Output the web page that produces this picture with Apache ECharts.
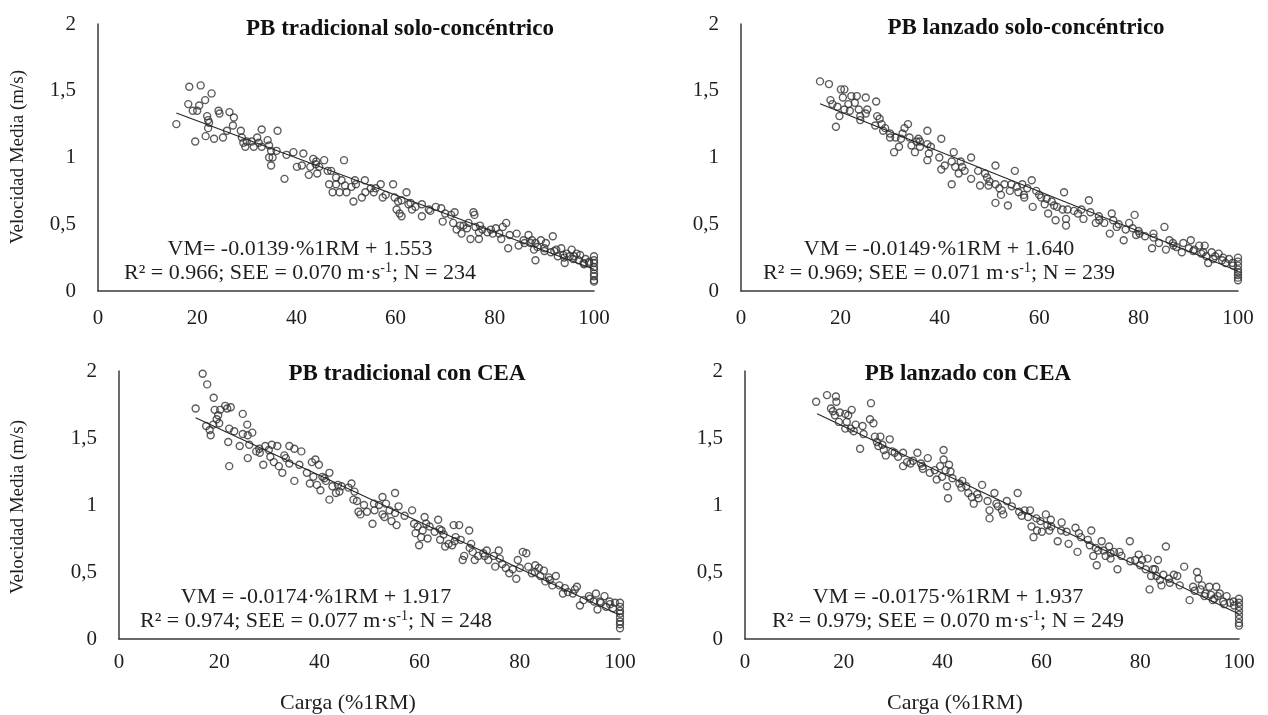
<!DOCTYPE html>
<html>
<head>
<meta charset="utf-8">
<script src="https://cdn.jsdelivr.net/npm/echarts@6/dist/echarts.min.js"></script>
<style>
html,body{margin:0;padding:0;background:#fff;}
#chart{width:1268px;height:715px;}
</style>
</head>
<body>
<div id="chart"></div>
<script>
// ---- tick labels ----
const xTickLabels = ['0', '20', '40', '60', '80', '100'];
const yTickLabels = ['0', '0,5', '1', '1,5', '2'];

// ---- panel titles ----
const panelTitles = ['PB tradicional solo-concéntrico', 'PB lanzado solo-concéntrico', 'PB tradicional con CEA', 'PB lanzado con CEA'];
const eqLine1 = ['VM= -0.0139·%1RM + 1.553', 'VM = -0.0149·%1RM + 1.640', 'VM = -0.0174·%1RM + 1.917', 'VM = -0.0175·%1RM + 1.937'];
const eqR2 = ['0.966', '0.969', '0.974', '0.979'];
const eqSEE = ['0.070', '0.071', '0.077', '0.070'];
const eqN = ['234', '239', '248', '249'];

// ---- fit lines (endpoints, %1RM / m/s) ----
const fitTradConc = [[15.8, 1.333], [100, 0.163]];
const fitLanzConc = [[15.9, 1.403], [100, 0.150]];
const fitTradCEA = [[15.3, 1.651], [100, 0.177]];
const fitLanzCEA = [[14.6, 1.681], [100, 0.187]];

// ---- data (%1RM, VM m/s) ----
const tradConc = [[15.8,1.25],[18.4,1.53],[20.7,1.54],[22.9,1.48],[21.6,1.43],[20.4,1.39],[18.2,1.40],[19.1,1.35],[20.0,1.35],[22.0,1.31],[22.2,1.28],[22.4,1.26],[22.2,1.22],[19.6,1.12],[21.7,1.16],[23.4,1.14],[25.2,1.15],[24.3,1.35],[24.5,1.33],[26.5,1.34],[27.4,1.30],[27.2,1.24],[28.8,1.20],[29.0,1.15],[29.3,1.11],[29.7,1.08],[31.0,1.12],[31.4,1.08],[32.1,1.15],[32.4,1.11],[33.0,1.21],[34.2,1.13],[34.5,1.09],[34.9,1.05],[35.2,1.00],[34.5,1.00],[34.9,0.94],[36.2,1.20],[37.6,0.84],[39.4,1.04],[40.1,0.93],[41.4,1.03],[41.1,0.94],[42.5,0.87],[42.8,0.93],[43.4,0.99],[43.9,0.95],[44.6,0.93],[45.6,0.98],[44.2,0.88],[46.3,0.90],[46.6,0.80],[47.3,0.74],[48.0,0.85],[48.0,0.80],[48.7,0.74],[49.1,0.83],[49.8,0.79],[50.1,0.74],[49.6,0.98],[51.1,0.78],[51.5,0.67],[51.8,0.83],[53.2,0.70],[53.9,0.74],[53.8,0.83],[55.0,0.77],[55.6,0.74],[57.0,0.80],[57.4,0.70],[59.5,0.80],[59.8,0.70],[60.5,0.67],[61.2,0.68],[60.2,0.61],[60.8,0.58],[61.2,0.56],[62.2,0.74],[62.6,0.65],[63.3,0.61],[64.0,0.63],[65.3,0.65],[65.3,0.56],[66.7,0.61],[68.1,0.63],[69.2,0.62],[69.5,0.52],[71.2,0.57],[71.9,0.59],[71.6,0.51],[72.3,0.46],[73.0,0.49],[73.3,0.43],[73.7,0.49],[74.4,0.47],[74.7,0.51],[75.1,0.39],[75.7,0.59],[75.9,0.57],[76.1,0.48],[76.8,0.44],[76.8,0.39],[77.5,0.46],[78.5,0.44],[79.2,0.46],[79.6,0.43],[80.2,0.47],[80.9,0.43],[81.3,0.39],[81.6,0.48],[82.3,0.51],[82.7,0.32],[84.4,0.43],[84.8,0.34],[85.8,0.38],[86.8,0.42],[87.2,0.36],[87.5,0.38],[88.2,0.36],[87.9,0.31],[88.6,0.33],[88.2,0.23],[89.3,0.38],[90.0,0.32],[90.3,0.36],[91.7,0.41],[91.3,0.29],[92.4,0.31],[92.7,0.26],[93.4,0.32],[93.8,0.27],[94.1,0.21],[94.5,0.28],[95.1,0.26],[95.5,0.31],[95.8,0.24],[96.5,0.28],[96.9,0.23],[97.2,0.27],[97.9,0.21],[98.3,0.24],[99.0,0.21],[100,0.26],[100,0.23],[100,0.21],[100,0.18],[100,0.16],[100,0.13],[100,0.11],[100,0.08],[100,0.07],[38.0,1.02],[44.0,0.97],[47.0,0.90],[52.0,0.80],[56.0,0.77],[58.0,0.72],[63.0,0.66],[67.0,0.60],[70.0,0.58],[77.0,0.49],[83.0,0.42],[86.0,0.36],[90.0,0.30],[92.0,0.30],[94.0,0.25],[96.0,0.26],[98.0,0.20],[99.0,0.22],[30.0,1.12],[33.0,1.08],[26.0,1.20],[36.0,1.05]];

const lanzConc = [[15.9,1.57],[17.7,1.55],[18.0,1.43],[18.4,1.40],[19.1,1.23],[19.8,1.31],[20.1,1.51],[20.8,1.51],[20.5,1.45],[19.4,1.38],[20.8,1.36],[21.6,1.40],[21.9,1.35],[22.2,1.46],[22.9,1.41],[23.3,1.46],[23.7,1.36],[24.0,1.31],[25.1,1.45],[25.1,1.33],[25.4,1.36],[27.2,1.42],[27.4,1.31],[27.9,1.29],[28.3,1.25],[28.6,1.20],[29.0,1.22],[30.0,1.15],[30.8,1.04],[31.1,1.15],[31.8,1.08],[32.2,1.14],[32.5,1.18],[32.9,1.22],[33.6,1.25],[33.9,1.15],[34.3,1.09],[35.0,1.04],[35.3,1.12],[35.7,1.14],[36.0,1.08],[37.5,1.20],[37.5,1.10],[37.8,1.03],[37.5,0.98],[38.2,1.08],[39.9,1.00],[40.3,1.14],[40.3,0.91],[41.0,0.94],[42.4,0.80],[42.4,0.97],[42.8,1.04],[43.1,0.93],[43.8,0.88],[44.2,0.97],[44.5,0.93],[46.3,1.00],[46.3,0.84],[47.7,0.90],[48.1,0.79],[49.1,0.88],[49.5,0.85],[49.8,0.79],[51.2,0.94],[51.2,0.80],[51.2,0.66],[52.3,0.72],[53.0,0.80],[53.7,0.64],[54.1,0.75],[54.4,0.80],[55.1,0.90],[55.5,0.78],[55.8,0.74],[56.6,0.80],[56.9,0.72],[57.6,0.77],[58.5,0.83],[58.7,0.63],[59.4,0.75],[60.4,0.70],[61.1,0.65],[61.5,0.69],[61.8,0.58],[62.5,0.67],[63.3,0.53],[63.6,0.63],[64.7,0.61],[65.0,0.74],[65.4,0.54],[65.4,0.49],[65.7,0.61],[67.8,0.58],[68.5,0.61],[68.9,0.54],[70.0,0.68],[70.3,0.59],[71.4,0.51],[72.1,0.53],[73.1,0.51],[74.2,0.43],[74.6,0.58],[74.9,0.53],[75.6,0.48],[77.0,0.38],[77.4,0.46],[78.1,0.51],[79.2,0.57],[78.8,0.47],[79.5,0.42],[80.2,0.43],[81.3,0.41],[82.7,0.32],[83.0,0.43],[84.1,0.36],[85.2,0.48],[85.5,0.31],[86.2,0.38],[86.9,0.36],[87.6,0.33],[88.7,0.29],[89.0,0.36],[90.1,0.32],[90.5,0.38],[91.2,0.31],[92.2,0.34],[92.6,0.28],[93.3,0.34],[93.6,0.26],[94.0,0.21],[94.7,0.29],[95.4,0.26],[96.1,0.28],[96.8,0.23],[97.5,0.21],[98.2,0.24],[98.9,0.21],[100,0.25],[100,0.22],[100,0.19],[100,0.16],[100,0.14],[100,0.12],[100,0.10],[100,0.08],[24.0,1.28],[27.0,1.24],[30.0,1.18],[36.0,1.12],[45.0,0.90],[50.0,0.82],[52.0,0.77],[57.0,0.70],[60.0,0.72],[63.0,0.64],[67.0,0.60],[72.0,0.56],[76.0,0.50],[80.0,0.45],[83.0,0.40],[87.0,0.34],[91.0,0.30],[93.0,0.29],[95.0,0.24],[97.0,0.25],[99.0,0.19]];

const tradCEA = [[15.3,1.72],[16.7,1.98],[17.6,1.90],[18.9,1.80],[17.4,1.59],[18.1,1.56],[18.3,1.52],[18.8,1.60],[19.1,1.71],[19.5,1.64],[19.8,1.67],[20.2,1.71],[21.2,1.74],[22.3,1.73],[21.6,1.72],[22.0,1.57],[21.8,1.47],[22.0,1.29],[24.1,1.44],[24.7,1.68],[24.7,1.53],[25.6,1.60],[25.7,1.52],[26.6,1.54],[25.7,1.35],[27.4,1.40],[28.1,1.39],[28.8,1.30],[29.2,1.44],[29.9,1.41],[30.2,1.36],[30.5,1.45],[30.9,1.32],[31.6,1.44],[31.9,1.29],[32.6,1.24],[33.3,1.35],[34.0,1.44],[34.0,1.31],[35.0,1.42],[35.0,1.18],[36.4,1.40],[37.5,1.24],[38.1,1.16],[38.5,1.32],[38.8,1.21],[39.2,1.34],[39.5,1.15],[39.9,1.30],[40.2,1.11],[40.6,1.21],[41.3,1.18],[42.0,1.24],[42.0,1.04],[42.6,1.14],[43.3,1.09],[43.7,1.15],[44.4,1.14],[45.8,1.13],[46.4,1.16],[46.8,1.04],[47.5,1.03],[47.8,0.95],[48.2,0.93],[48.9,1.00],[49.5,0.95],[50.6,0.86],[50.9,1.01],[51.9,1.00],[52.6,1.06],[52.6,0.93],[53.3,1.01],[54.0,0.96],[54.4,0.88],[55.1,0.94],[55.1,1.09],[55.4,0.85],[55.8,0.99],[58.5,0.96],[58.9,0.86],[59.2,0.79],[59.6,0.84],[59.9,0.70],[60.3,0.76],[60.6,0.81],[61.0,0.91],[61.3,0.86],[61.6,0.75],[63.0,0.80],[63.7,0.89],[64.1,0.74],[64.4,0.81],[64.8,0.78],[65.1,0.69],[65.8,0.71],[66.5,0.70],[66.8,0.85],[67.2,0.76],[67.9,0.85],[68.2,0.74],[68.6,0.59],[68.9,0.62],[69.9,0.81],[70.3,0.71],[70.6,0.65],[71.0,0.59],[71.7,0.62],[72.7,0.64],[73.4,0.66],[73.7,0.59],[74.8,0.62],[75.1,0.54],[75.8,0.66],[76.5,0.56],[77.2,0.53],[77.9,0.49],[78.6,0.52],[79.3,0.45],[79.6,0.59],[80.6,0.65],[81.3,0.64],[81.7,0.54],[82.4,0.49],[83.1,0.55],[83.8,0.53],[84.1,0.47],[84.8,0.51],[85.1,0.43],[85.8,0.46],[86.5,0.40],[87.2,0.47],[87.9,0.40],[88.6,0.34],[89.6,0.35],[90.6,0.34],[91.4,0.39],[92.0,0.25],[92.7,0.29],[93.8,0.32],[94.8,0.28],[95.2,0.34],[95.5,0.22],[96.2,0.27],[96.9,0.32],[97.2,0.24],[97.9,0.28],[98.6,0.23],[99.0,0.27],[100,0.27],[100,0.24],[100,0.21],[100,0.19],[100,0.16],[100,0.13],[100,0.11],[100,0.08],[20.0,1.61],[23.0,1.55],[26.0,1.45],[28.0,1.42],[33.0,1.37],[36.0,1.30],[41.0,1.20],[44.0,1.10],[47.0,1.10],[51.0,0.96],[53.0,0.91],[57.0,0.92],[62.0,0.84],[64.0,0.82],[67.0,0.73],[70.0,0.68],[73.0,0.62],[76.0,0.60],[80.0,0.53],[83.0,0.50],[86.0,0.44],[89.0,0.38],[91.0,0.37],[94.0,0.30],[96.0,0.28],[98.0,0.26]];

const lanzCEA = [[14.4,1.77],[16.6,1.82],[18.4,1.81],[18.5,1.77],[17.4,1.72],[17.8,1.70],[18.2,1.67],[19.2,1.69],[20.3,1.68],[20.9,1.67],[21.6,1.71],[20.6,1.62],[20.3,1.57],[21.4,1.57],[22.4,1.60],[23.3,1.42],[23.8,1.59],[25.5,1.76],[25.3,1.64],[26.0,1.61],[26.3,1.51],[26.7,1.47],[27.4,1.51],[27.8,1.45],[28.1,1.41],[28.5,1.37],[29.3,1.49],[29.8,1.40],[30.3,1.39],[32.0,1.39],[32.0,1.29],[32.8,1.32],[33.5,1.31],[34.9,1.39],[35.6,1.31],[35.9,1.29],[37.0,1.35],[37.4,1.24],[38.4,1.26],[38.8,1.19],[39.5,1.29],[39.9,1.21],[40.2,1.41],[40.2,1.34],[40.6,1.26],[40.9,1.14],[41.1,1.05],[41.3,1.30],[41.6,1.25],[43.4,1.16],[43.8,1.13],[44.8,1.14],[45.2,1.09],[45.9,1.06],[46.3,1.01],[47.3,1.05],[48.0,1.15],[49.1,1.03],[49.5,0.96],[49.5,0.90],[50.5,1.09],[50.9,1.01],[51.2,0.99],[52.3,0.93],[53.0,1.03],[55.2,1.09],[55.5,0.95],[56.6,0.96],[57.3,0.91],[57.7,0.96],[58.0,0.84],[58.4,0.76],[59.1,0.81],[59.8,0.88],[60.1,0.80],[60.9,0.93],[61.2,0.85],[61.6,0.81],[61.9,0.89],[63.3,0.73],[64.1,0.87],[65.1,0.80],[65.5,0.71],[66.9,0.83],[67.3,0.65],[67.6,0.79],[69.4,0.74],[69.8,0.70],[70.1,0.81],[70.5,0.62],[71.2,0.55],[71.5,0.66],[72.2,0.73],[72.6,0.66],[73.0,0.62],[73.7,0.69],[74.0,0.64],[74.7,0.65],[75.4,0.52],[75.8,0.65],[76.2,0.62],[77.9,0.73],[79.0,0.59],[79.7,0.63],[80.4,0.59],[81.1,0.52],[81.5,0.60],[81.9,0.37],[82.2,0.47],[82.6,0.52],[83.3,0.47],[83.6,0.59],[84.0,0.44],[84.3,0.40],[84.7,0.48],[85.2,0.69],[85.8,0.45],[86.8,0.48],[87.5,0.47],[88.9,0.54],[90.0,0.29],[90.7,0.39],[91.5,0.50],[91.8,0.45],[92.2,0.37],[92.5,0.40],[93.2,0.34],[94.0,0.39],[94.3,0.33],[94.7,0.29],[95.4,0.39],[95.7,0.32],[96.1,0.34],[96.8,0.28],[97.5,0.32],[98.2,0.27],[98.9,0.28],[100,0.30],[100,0.27],[100,0.24],[100,0.21],[100,0.18],[100,0.15],[100,0.12],[100,0.10],[19.0,1.62],[22.0,1.55],[24.0,1.53],[27.0,1.44],[31.0,1.36],[34.0,1.33],[36.0,1.27],[42.0,1.20],[44.0,1.18],[47.0,1.08],[52.0,0.96],[54.0,0.99],[56.0,0.92],[59.0,0.90],[62.0,0.84],[64.0,0.81],[68.0,0.76],[71.0,0.68],[74.0,0.60],[78.0,0.58],[80.0,0.55],[83.0,0.52],[86.0,0.42],[88.0,0.40],[91.0,0.36],[93.0,0.32],[95.0,0.30],[97.0,0.26],[99.0,0.25]];

const panelData = [tradConc, lanzConc, tradCEA, lanzCEA];
const panelFits = [fitTradConc, fitLanzConc, fitTradCEA, fitLanzCEA];

// ---- layout ----
const grids = [
  {left: 98, top: 24, width: 496, height: 267},
  {left: 741, top: 24, width: 497, height: 267},
  {left: 119, top: 371, width: 501, height: 268},
  {left: 745, top: 371, width: 494, height: 268}
];
const xLabelMargin = [17, 17, 13, 13];
const titlePos = [[400, 29], [1026, 28], [407, 374], [968, 374]];
const eqPos = [[300, 249, 273], [939, 249, 273], [316, 597, 621], [948, 597, 621]];

const FONT = '"Liberation Serif", "Times New Roman", serif';
const TXT = '#1e1e1e';
const AX = '#3a3a3a';

const xAxes = [], yAxes = [], series = [], graphics = [];
grids.forEach((g, i) => {
  xAxes.push({
    gridIndex: i, type: 'value', min: 0, max: 100, interval: 20,
    axisLine: {show: true, lineStyle: {color: AX, width: 1.5}},
    axisTick: {show: false}, splitLine: {show: false},
    axisLabel: {color: TXT, fontFamily: FONT, fontSize: 21, margin: xLabelMargin[i],
      formatter: (v, idx) => xTickLabels[idx]}
  });
  yAxes.push({
    gridIndex: i, type: 'value', min: 0, max: 2, interval: 0.5,
    axisLine: {show: true, lineStyle: {color: AX, width: 1.5}},
    axisTick: {show: false}, splitLine: {show: false},
    axisLabel: {color: TXT, fontFamily: FONT, fontSize: 21, margin: 22,
      formatter: (v, idx) => yTickLabels[idx]}
  });
  series.push({
    type: 'scatter', xAxisIndex: i, yAxisIndex: i, data: panelData[i],
    symbol: 'circle', symbolSize: 7,
    itemStyle: {color: 'rgba(0,0,0,0)', borderColor: '#333333', borderWidth: 1.4},
    silent: true, z: 2
  });
  series.push({
    type: 'line', xAxisIndex: i, yAxisIndex: i, data: panelFits[i],
    symbol: 'none', lineStyle: {color: '#262626', width: 1.2}, silent: true, z: 3
  });
  graphics.push({
    type: 'text', x: titlePos[i][0], y: titlePos[i][1],
    style: {text: panelTitles[i], fill: '#111', font: 'bold 23px ' + FONT,
      textAlign: 'center', textVerticalAlign: 'middle'}
  });
  graphics.push({
    type: 'text', x: eqPos[i][0], y: eqPos[i][1],
    style: {text: eqLine1[i], fill: TXT, font: '22px ' + FONT,
      textAlign: 'center', textVerticalAlign: 'middle'}, z: 10
  });
  graphics.push({
    type: 'text', x: eqPos[i][0], y: eqPos[i][2],
    style: {
      text: '{n|R² = ' + eqR2[i] + '; SEE = ' + eqSEE[i] + ' m·s}{s|-1}{n|; N = ' + eqN[i] + '}',
      rich: {
        n: {fill: TXT, font: '22px ' + FONT, lineHeight: 24},
        s: {fill: TXT, font: '14px ' + FONT, verticalAlign: 'top', lineHeight: 14}
      },
      textAlign: 'center', textVerticalAlign: 'middle'
    }, z: 10
  });
});

// axis titles
graphics.push({type: 'text', x: 18, y: 157, rotation: Math.PI / 2,
  style: {text: 'Velocidad Media (m/s)', fill: TXT, font: '19px ' + FONT, textAlign: 'center', textVerticalAlign: 'middle'}});
graphics.push({type: 'text', x: 18, y: 507, rotation: Math.PI / 2,
  style: {text: 'Velocidad Media (m/s)', fill: TXT, font: '19px ' + FONT, textAlign: 'center', textVerticalAlign: 'middle'}});
graphics.push({type: 'text', x: 348, y: 703,
  style: {text: 'Carga (%1RM)', fill: TXT, font: '22px ' + FONT, textAlign: 'center', textVerticalAlign: 'middle'}});
graphics.push({type: 'text', x: 955, y: 703,
  style: {text: 'Carga (%1RM)', fill: TXT, font: '22px ' + FONT, textAlign: 'center', textVerticalAlign: 'middle'}});

const chart = echarts.init(document.getElementById('chart'), null, {renderer: 'canvas'});
chart.setOption({
  backgroundColor: '#ffffff',
  animation: false,
  grid: grids,
  xAxis: xAxes,
  yAxis: yAxes,
  series: series,
  graphic: graphics
});
</script>
</body>
</html>
